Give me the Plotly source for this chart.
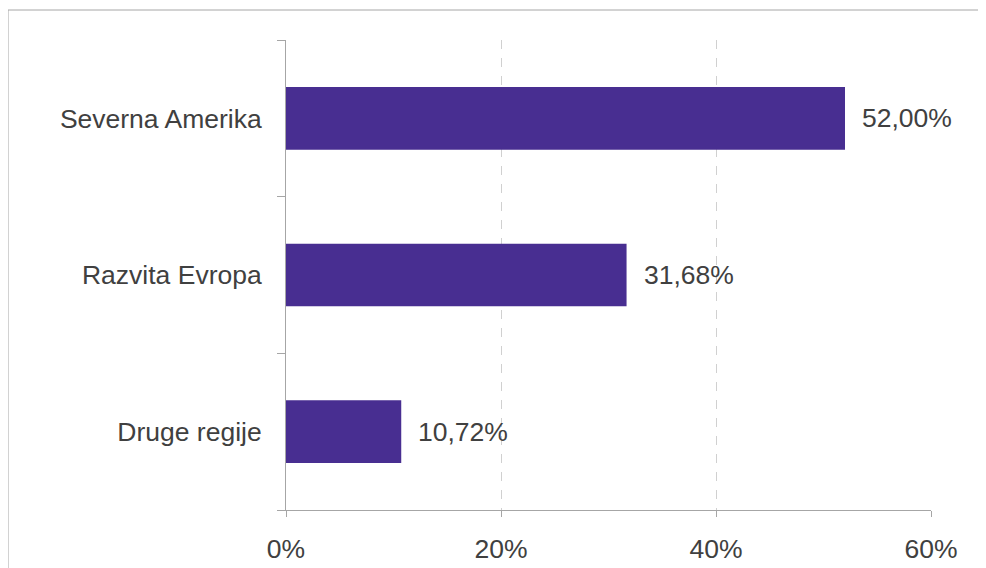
import plotly.graph_objs as go

# regions and shares (%)
regions = ['Druge regije', 'Razvita Evropa', 'Severna Amerika']
shares = [10.72, 31.68, 52.00]
labels = [('%.2f%%' % v).replace('.', ',') for v in shares]
x_ticks = [0, 20, 40, 60]
x_tick_text = ['0%', '20%', '40%', '60%']

font = dict(family='Liberation Sans, Arial, sans-serif', size=26.5, color='#404040')
axis_grey = '#a6a6a6'

fig = go.Figure(data=[go.Bar(
    y=regions, x=shares,
    orientation='h',
    marker=dict(color='#482E91', line=dict(width=0)),
)])

# value labels to the right of each bar
for r, v, t in zip(regions, shares, labels):
    fig.add_annotation(x=v, y=r, text=t, showarrow=False,
                       xanchor='left', xshift=15, font=font)

# page body adds 8px, so margins are offset by that
fig.update_layout(
    width=986, height=568,
    margin=dict(l=278, r=63, t=32, b=66),
    paper_bgcolor='white', plot_bgcolor='white',
    font=font,
    bargap=0.6,
    showlegend=False,
    shapes=[dict(type='rect', xref='paper', yref='paper',
                 x0=-0.431, x1=1.3, y0=-0.3, y1=1.0638,
                 line=dict(color=axis_grey, width=1))],
)
fig.update_xaxes(
    range=[0, 60], tickvals=x_ticks, ticktext=x_tick_text,
    showgrid=True, gridcolor='#d0d0d0', griddash='dash', gridwidth=1,
    showline=True, linecolor=axis_grey, linewidth=1,
    ticks='outside', ticklen=6, tickcolor=axis_grey,
    zeroline=False, tickfont=font, ticklabelstandoff=9, automargin=False,
)
fig.update_yaxes(
    showline=True, linecolor=axis_grey, linewidth=1,
    ticks='outside', tickson='boundaries', ticklen=8, tickcolor=axis_grey,
    showgrid=False, tickfont=font, ticklabelstandoff=18, automargin=False,
)

fig.write_html("out.html")
